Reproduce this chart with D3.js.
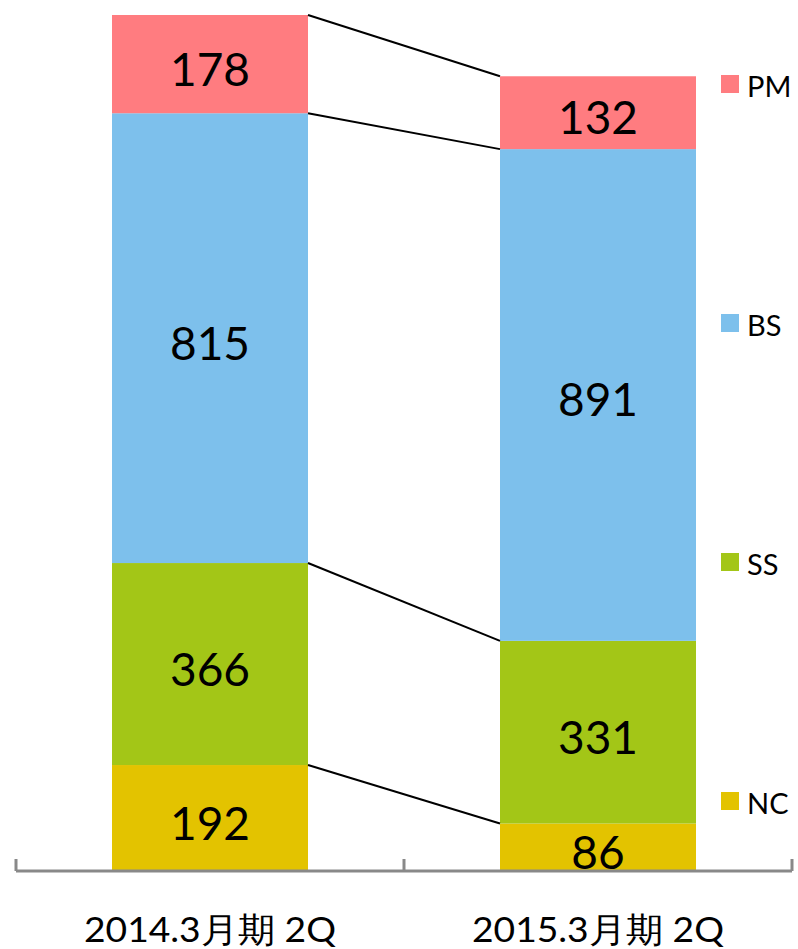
<!DOCTYPE html>
<html>
<head>
<meta charset="utf-8">
<script src="https://cdn.jsdelivr.net/npm/d3@7"></script>
<style>
  html, body { margin: 0; padding: 0; background: #fff; }
  svg { display: block; }
</style>
</head>
<body>
<svg id="chart" width="798" height="949"></svg>
<script>
const categories = ["2014.3月期 2Q", "2015.3月期 2Q"];
const seriesNames = ["NC", "SS", "BS", "PM"];
const NC = [192, 86];
const SS = [366, 331];
const BS = [815, 891];
const PM = [178, 132];
const legendOrder = ["PM", "BS", "SS", "NC"];
const colors = { NC: "#E3C300", SS: "#A3C617", BS: "#7DC0EC", PM: "#FF7C80" };

const seriesValues = { NC, SS, BS, PM };
const rows = categories.map((c, i) => {
  const r = { cat: c };
  seriesNames.forEach(s => r[s] = seriesValues[s][i]);
  return r;
});

const svg = d3.select("#chart");
const font = "'Lato', 'Noto Sans', sans-serif";

const x = d3.scaleBand().domain(categories).range([16, 792]).paddingInner(0).paddingOuter(0);
const barW = 196;
const y = d3.scaleLinear().domain([0, 1551]).range([871, 15]);

const stack = d3.stack().keys(seriesNames)(rows);

const connectors = stack.map(layer => ({ y0: layer[0][1], y1: layer[1][1] }));

const bx = c => x(c) + (x.bandwidth() - barW) / 2;

// bars
const g = svg.append("g");
stack.forEach(layer => {
  g.selectAll(null).data(layer).enter().append("rect")
    .attr("x", d => bx(d.data.cat))
    .attr("y", d => y(d[1]))
    .attr("width", barW)
    .attr("height", d => y(d[0]) - y(d[1]))
    .attr("fill", colors[layer.key]);
});

// connectors
svg.append("g").selectAll("line").data(connectors).enter().append("line")
  .attr("x1", bx(categories[0]) + barW)
  .attr("x2", bx(categories[1]))
  .attr("y1", d => y(d.y0))
  .attr("y2", d => y(d.y1))
  .attr("stroke", "#000")
  .attr("stroke-width", 2);

// value labels
stack.forEach(layer => {
  svg.append("g").selectAll("text").data(layer).enter().append("text")
    .attr("x", d => bx(d.data.cat) + barW / 2)
    .attr("y", d => (y(d[0]) + y(d[1])) / 2 + 4)
    .attr("text-anchor", "middle")
    .attr("dominant-baseline", "central")
    .attr("font-family", font)
    .attr("font-size", 46)
    .attr("fill", "#000")
    .text(d => d.data[layer.key]);
});

// axis
const axis = d3.axisBottom(x).tickSize(0).tickFormat("");
const ag = svg.append("g").attr("transform", "translate(0,871)").call(axis);
ag.select(".domain").attr("stroke", "#898989").attr("stroke-width", 3).attr("d", "M16,0H792");
ag.selectAll(".tick").remove();
const tickXs = [x(categories[0]), x(categories[1]), x(categories[1]) + x.bandwidth()];
ag.selectAll("line.t").data(tickXs).enter().append("line")
  .attr("class", "t")
  .attr("x1", d => d).attr("x2", d => d)
  .attr("y1", -12).attr("y2", 0)
  .attr("stroke", "#898989").attr("stroke-width", 3);

// category labels
svg.append("g").selectAll("text").data(categories).enter().append("text")
  .attr("x", d => x(d) + x.bandwidth() / 2)
  .attr("y", 942)
  .attr("text-anchor", "middle")
  .attr("font-family", font)
  .attr("font-size", 35)
  .attr("textLength", 252)
  .attr("lengthAdjust", "spacingAndGlyphs")
  .attr("fill", "#000")
  .text(d => d);

// legend
const legendY = { PM: 84, BS: 323, SS: 562, NC: 801 };
const lg = svg.append("g").selectAll("g").data(legendOrder).enter().append("g")
  .attr("transform", d => `translate(721,${legendY[d]})`);
lg.append("rect").attr("x", 0).attr("y", -9).attr("width", 18).attr("height", 18)
  .attr("fill", d => colors[d]);
lg.append("text").attr("x", 26).attr("y", 1)
  .attr("dominant-baseline", "central")
  .attr("font-family", font).attr("font-size", 29).attr("fill", "#000")
  .text(d => d);
</script>
</body>
</html>
